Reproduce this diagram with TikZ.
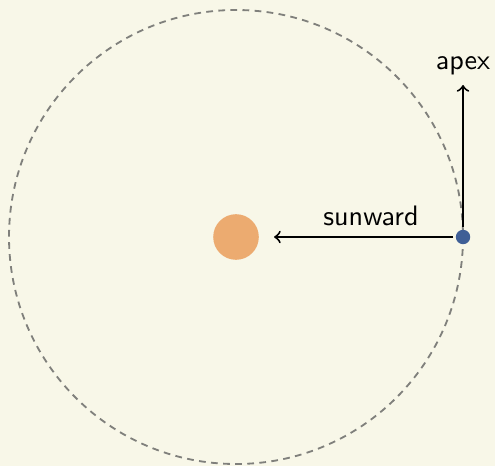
\documentclass[tikz,border=0pt]{standalone}
\usepackage{tikz}
\usetikzlibrary{positioning}
\definecolor{paper}{RGB}{248, 247, 232}
\definecolor{sunOrange}{RGB}{236, 171, 112}
\definecolor{earthBlue}{RGB}{63, 95, 150}
\definecolor{orbitGray}{RGB}{128, 128, 124}

\begin{document}
\begin{tikzpicture}[x=0.0125cm, y=-0.0125cm, font=\sffamily,
    orbit/.style={draw=orbitGray, line width=0.65pt, dash pattern=on 2.4pt off 1.9pt},
    body/.style={circle, inner sep=0pt, minimum size=#1},
    vec/.style={->, line width=0.7pt}]
        \fill[paper] (0,0) rectangle (495,466);
        \useasboundingbox (0,0) rectangle (495,466);
        \draw[orbit] (236,237) circle (227);
        \node[body=0.57cm, fill=sunOrange] (sun) at (236,237) {};
        \node[body=0.18cm, fill=earthBlue] (earth) at (463,237) {};
        \coordinate (tip) at (463,85);
        \draw[vec] (earth.west) ++(-2,0) -- (274,237);
        \draw[vec] (earth.north) ++(0,-2) -- (tip);
        \node (sunlab) at (371,216) {sunward};
        \node[above=0cm of tip] (apexlab) {apex};
      \end{tikzpicture}
\end{document}
